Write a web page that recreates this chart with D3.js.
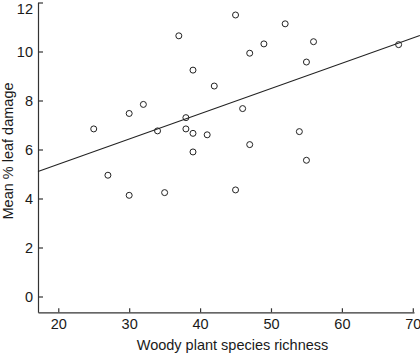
<!DOCTYPE html>
<html>
<head>
<meta charset="utf-8">
<script src="https://cdn.jsdelivr.net/npm/d3@7"></script>
<style>
  html, body { margin: 0; padding: 0; background: #fff; }
  svg { display: block; font-family: "Liberation Sans", Arial, sans-serif; }
</style>
</head>
<body>
<svg id="chart" width="420" height="355"></svg>
<script>
// Data
const richness = [25, 27, 30, 30, 32, 34, 35, 37, 38, 38, 39, 39, 39, 41, 42, 45, 45, 46, 47, 47, 49, 52, 54, 55, 55, 56, 68];
const leafDamage = [6.84, 4.95, 7.47, 4.13, 7.84, 6.76, 4.24, 10.64, 7.30, 6.84, 9.24, 6.66, 5.90, 6.60, 8.59, 11.49, 4.35, 7.67, 9.93, 6.20, 10.31, 11.13, 6.73, 9.57, 5.56, 10.40, 10.28];
const xTicks = [20, 30, 40, 50, 60, 70];
const yTicks = [0, 2, 4, 6, 8, 10, 12];
const fitIntercept = 3.34;
const fitSlope = 0.103;
const fitXRange = [17.14, 71.0];
const xTitle = "Woody plant species richness";
const yTitle = "Mean % leaf damage";

const svg = d3.select("#chart");
const ink = "#333";
const fontSize = "14.5px";

const x = d3.scaleLinear().domain([17.14, 70.17]).range([38, 414]);
const y = d3.scaleLinear().domain([-0.645, 12]).range([312.3, 2.5]);

// Axes
const xAxis = d3.axisBottom(x).tickValues(xTicks).tickSize(-4).tickPadding(6).tickSizeOuter(0);
const yAxis = d3.axisLeft(y).tickValues(yTicks).tickSize(-5).tickPadding(5).tickSizeOuter(0);

const gx = svg.append("g").attr("transform", `translate(0,${y.range()[0]})`).call(xAxis);
const gy = svg.append("g").attr("transform", `translate(${x.range()[0]},0)`).call(yAxis);

[gx, gy].forEach(g => {
  g.select(".domain").attr("stroke", ink).attr("stroke-width", 1.2);
  g.selectAll(".tick line").attr("stroke", ink).attr("stroke-width", 1.2);
  g.selectAll(".tick text").attr("fill", "#1a1a1a").style("font-size", fontSize).attr("font-family", null);
});
// keep the top tick label inside the picture
gy.selectAll(".tick text").filter(d => d === d3.max(yTicks)).attr("y", 6.2);

// Regression line
const line = d3.line().x(d => x(d)).y(d => y(fitIntercept + fitSlope * d));
svg.append("path")
  .datum(fitXRange)
  .attr("d", line)
  .attr("fill", "none")
  .attr("stroke", "#222")
  .attr("stroke-width", 1.1);

// Points
svg.append("g").selectAll("circle")
  .data(richness.map((r, i) => ({ r, v: leafDamage[i] })))
  .join("circle")
  .attr("cx", d => x(d.r))
  .attr("cy", d => y(d.v))
  .attr("r", 3)
  .attr("fill", "none")
  .attr("stroke", "#222")
  .attr("stroke-width", 1);

// Titles
svg.append("text")
  .attr("x", 232.5)
  .attr("y", 349.5)
  .attr("text-anchor", "middle")
  .attr("fill", "#1a1a1a")
  .style("font-size", fontSize)
  .text(xTitle);

svg.append("text")
  .attr("transform", "translate(12.5,151) rotate(-90)")
  .attr("text-anchor", "middle")
  .attr("fill", "#1a1a1a")
  .style("font-size", fontSize)
  .text(yTitle);
</script>
</body>
</html>
